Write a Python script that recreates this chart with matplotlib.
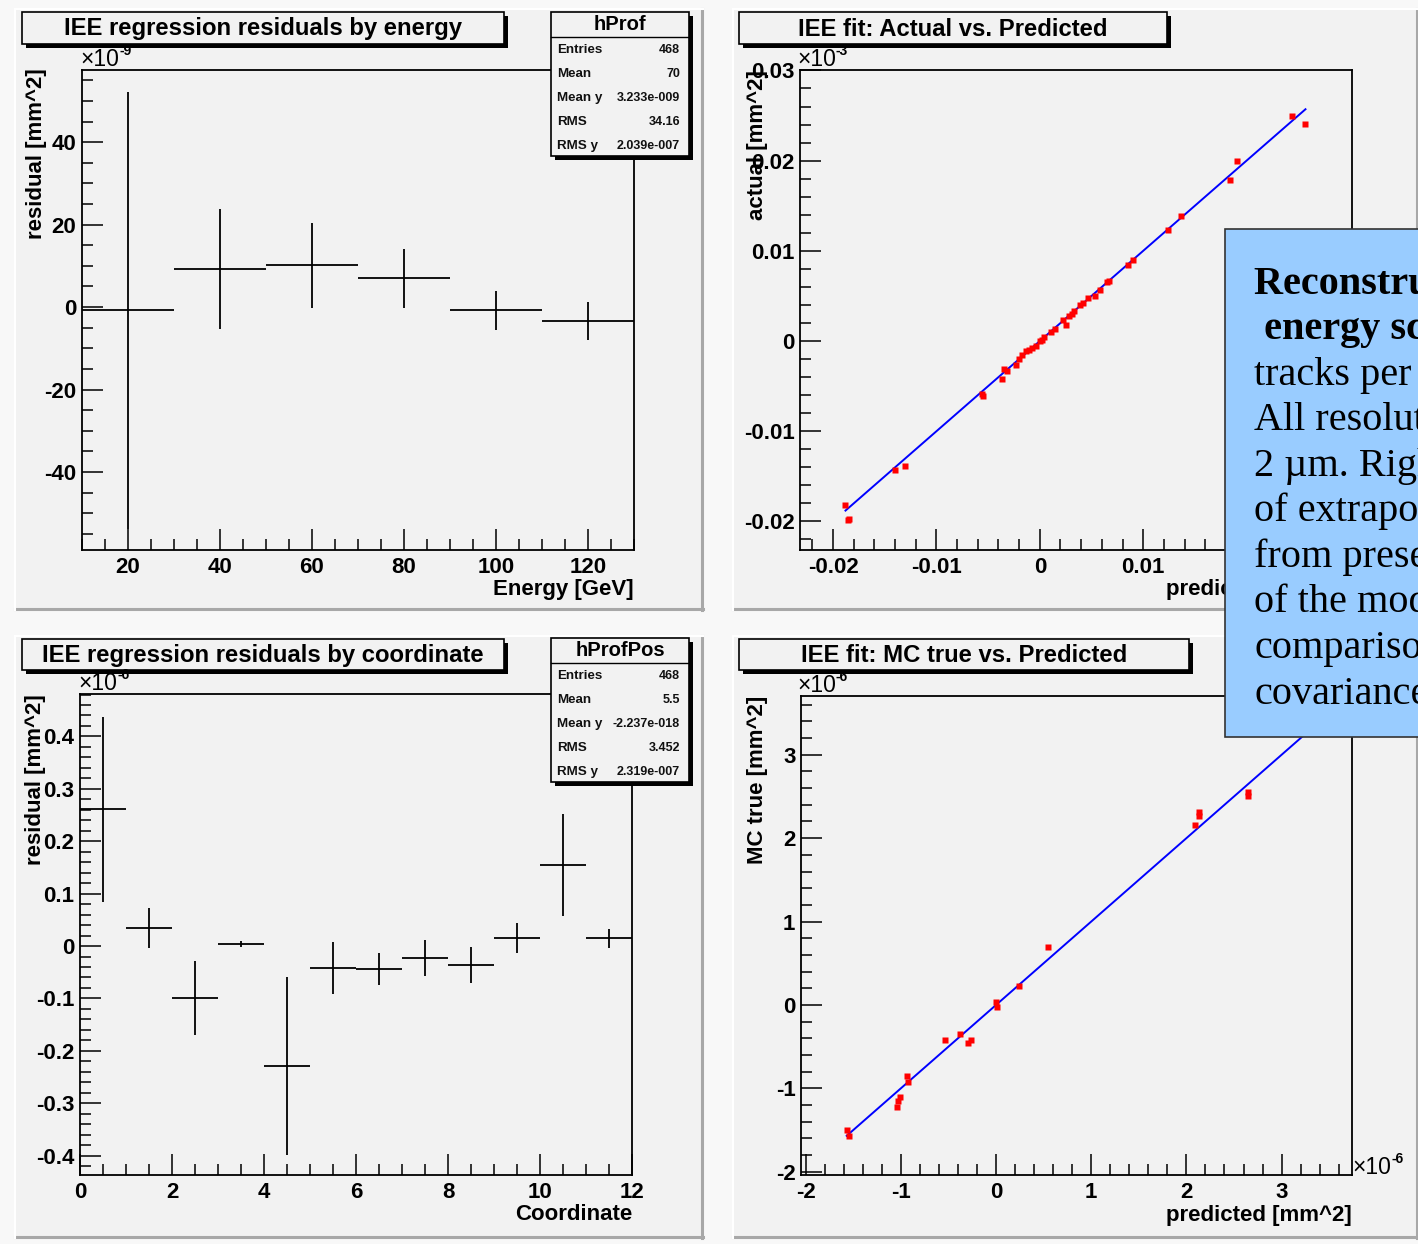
import numpy as np
import matplotlib
matplotlib.use("Agg")
import matplotlib.pyplot as plt
from matplotlib.patches import Rectangle
from matplotlib.ticker import MultipleLocator, FuncFormatter

plt.rcParams['font.family'] = ['Liberation Sans', 'DejaVu Sans']
plt.rcParams['font.weight'] = 'bold'

# ---------------- data ----------------
# Profile of residuals vs energy (units of 1e-9 mm^2)
energy_centers = [20, 40, 60, 80, 100, 120]
energy_bin_width = 20
energy_resid = [-0.8, 9.2, 10.1, 7.0, -0.8, -3.4]
energy_err = [53.0, 14.6, 10.2, 7.1, 4.8, 4.6]

# Profile of residuals vs coordinate (units of 1e-6 mm^2)
coord_centers = [0.5, 1.5, 2.5, 3.5, 4.5, 5.5, 6.5, 7.5, 8.5, 9.5, 10.5, 11.5]
coord_bin_width = 1
coord_resid = [0.261, 0.034, -0.099, 0.004, -0.229, -0.042, -0.044, -0.023,
               -0.036, 0.015, 0.155, 0.015]
coord_err = [0.177, 0.038, 0.071, 0.005, 0.170, 0.049, 0.030, 0.035,
             0.035, 0.028, 0.097, 0.018]

# Actual vs predicted (mm^2)
pred_actual = [-0.0188, -0.0186, -0.0185, -0.0140, -0.0130, -0.0056, -0.0055,
               -0.0037, -0.0035, -0.0032, -0.0023, -0.0020, -0.0017, -0.0013,
               -0.0010, -0.0008, -0.0004, 0.0000, 0.0002, 0.0004, 0.0011,
               0.0015, 0.0022, 0.0025, 0.0028, 0.0031, 0.0033, 0.0039, 0.0042,
               0.0047, 0.0053, 0.0058, 0.0065, 0.0067, 0.0085, 0.0090, 0.0124,
               0.0137, 0.0184, 0.0191, 0.0244, 0.0257]
actual_vals = [-0.0182, -0.0198, -0.0197, -0.0143, -0.0139, -0.0059, -0.0061,
               -0.0042, -0.0031, -0.0033, -0.0027, -0.0020, -0.0016, -0.0011,
               -0.0010, -0.0008, -0.0005, 0.0000, 0.0001, 0.0004, 0.0010,
               0.0013, 0.0023, 0.0018, 0.0028, 0.0030, 0.0033, 0.0040, 0.0042,
               0.0048, 0.0050, 0.0057, 0.0065, 0.0067, 0.0084, 0.0090, 0.0123,
               0.0139, 0.0179, 0.0200, 0.0249, 0.0241]
fit_actual = (1.0, 0.0)   # slope, intercept

# MC true vs predicted (units of 1e-6 mm^2)
pred_mc = [-1.568, -1.549, -1.042, -1.028, -1.014, -0.934, -0.925, -0.535,
           -0.380, -0.300, -0.268, 0.000, 0.010, 0.244, 0.545, 2.094, 2.131,
           2.131, 2.643, 2.643]
mc_true = [-1.505, -1.571, -1.229, -1.157, -1.110, -0.848, -0.919, -0.419,
           -0.348, -0.452, -0.419, 0.033, -0.024, 0.224, 0.690, 2.152, 2.319,
           2.260, 2.548, 2.510]
fit_mc = (1.0, 0.0)
fit_mc_range = [-1.57, 3.6]

stats_energy = [("Entries", "468"), ("Mean", "70"), ("Mean y", "3.233e-009"),
                ("RMS", "34.16"), ("RMS y", "2.039e-007")]
stats_coord = [("Entries", "468"), ("Mean", "5.5"), ("Mean y", "-2.237e-018"),
               ("RMS", "3.452"), ("RMS y", "2.319e-007")]

note_lines = [("Reconstruction of", True), (" energy scale", True),
              ("tracks per event.", False), ("All resolutions", False),
              ("2 \u00b5m. Right:", False), ("of extrapolation", False),
              ("from present", False), ("of the model", False),
              ("comparison", False), ("covariance", False)]

# ---------------- layout helpers ----------------
W, H = 1418, 1244
fig = plt.figure(figsize=(W / 100, H / 100), dpi=100, facecolor='#f8f8f8')

bg = fig.add_axes([0, 0, 1, 1], zorder=0)
bg.set_xlim(0, W); bg.set_ylim(H, 0); bg.axis('off')
fg = fig.add_axes([0, 0, 1, 1], zorder=20)
fg.set_xlim(0, W); fg.set_ylim(H, 0); fg.axis('off')
fg.patch.set_alpha(0)


def px_axes(x0, y0, x1, y1):
    ax = fig.add_axes([x0 / W, 1 - y1 / H, (x1 - x0) / W, (y1 - y0) / H], zorder=5)
    ax.patch.set_facecolor('#f2f2f2')
    for s in ax.spines.values():
        s.set_linewidth(1.3)
    ax.tick_params(which='both', direction='in', top=False, right=False,
                   width=1.1, labelsize=16)
    ax.tick_params(axis='y', pad=4)
    ax.tick_params(axis='x', pad=5)
    ax.tick_params(which='major', length=15)
    ax.tick_params(which='minor', length=8)
    return ax


def pad(x0, y0, x1, y1):
    bg.add_patch(Rectangle((x0, y0), x1 - x0, y1 - y0, facecolor='#f2f2f2',
                           edgecolor='none'))
    bg.plot([x1 - 1, x1 - 1], [y0, y1], color='#a8a8a8', lw=2.2)
    bg.plot([x0, x1], [y1 - 1, y1 - 1], color='#a8a8a8', lw=2.2)
    bg.plot([x0, x1], [y0, y0], color='white', lw=1.5)
    bg.plot([x0, x0], [y0, y1], color='white', lw=1.5)


def shadow_box(x0, y0, x1, y1, face='#f2f2f2'):
    fg.add_patch(Rectangle((x0 + 4, y0 + 4), x1 - x0, y1 - y0,
                           facecolor='black', edgecolor='none'))
    fg.add_patch(Rectangle((x0, y0), x1 - x0, y1 - y0, facecolor=face,
                           edgecolor='black', lw=1.2))


def title_box(x0, y0, x1, y1, text):
    shadow_box(x0, y0, x1, y1)
    fg.text((x0 + x1) / 2, (y0 + y1) / 2 + 1, text, ha='center', va='center',
            fontsize=17.2, fontweight='bold')


def stats_box(x0, y0, x1, y1, name, rows):
    shadow_box(x0, y0, x1, y1)
    fg.plot([x0, x1], [y0 + 25, y0 + 25], color='black', lw=1.0)
    fg.text((x0 + x1) / 2, y0 + 13, name, ha='center', va='center',
            fontsize=14.5, fontweight='bold')
    for i, (k, v) in enumerate(rows):
        yy = y0 + 38 + 24 * i
        fg.text(x0 + 6, yy, k, ha='left', va='center', fontsize=9.6,
                fontweight='bold', color='#111111')
        fg.text(x1 - 9, yy, v, ha='right', va='center', fontsize=9.0,
                fontweight='bold', color='#111111')


def exponent(x, y, power):
    fg.text(x, y, "\u00d710", ha='left', va='center', fontsize=16.5,
            fontweight='normal')
    fg.text(x + 39, y - 9, power, ha='left', va='center', fontsize=10,
            fontweight='bold')


def ylabel(x, ytop, text):
    fg.text(x, ytop, text, rotation=90, rotation_mode='anchor', ha='right',
            va='center', fontsize=16, fontweight='bold')


def xlabel(xright, y, text):
    fg.text(xright, y, text, ha='right', va='center', fontsize=16,
            fontweight='bold')


fmt = FuncFormatter(lambda v, p: f"{v:g}")

# ---------------- pads ----------------
pad(15, 9, 703, 610)
pad(733, 9, 1418, 610)
pad(15, 636, 703, 1238)
pad(733, 636, 1418, 1238)

# ---------------- residuals vs energy ----------------
ax1 = px_axes(82, 70, 634, 550)
ax1.errorbar(energy_centers, energy_resid, xerr=energy_bin_width / 2,
             yerr=energy_err, fmt='none', ecolor='black', elinewidth=1.3,
             capsize=0)
ax1.set_xlim(10, 130)
ax1.set_ylim(-58.9, 57.5)
ax1.xaxis.set_major_locator(MultipleLocator(20))
ax1.xaxis.set_minor_locator(MultipleLocator(5))
ax1.yaxis.set_major_locator(MultipleLocator(20))
ax1.yaxis.set_minor_locator(MultipleLocator(5))
ax1.xaxis.set_major_formatter(fmt)
ax1.yaxis.set_major_formatter(fmt)

# ---------------- actual vs predicted ----------------
ax2 = px_axes(800, 70, 1352, 550)
xa = np.array([min(pred_actual), max(pred_actual)])
ax2.plot(xa, fit_actual[0] * xa + fit_actual[1], color='#0000ff', lw=1.4)
ax2.plot(pred_actual, actual_vals, 's', color='#ff0000', ms=4.0, mec='none')
ax2.set_xlim(-0.0232, 0.0302)
ax2.set_ylim(-0.02317, 0.03005)
ax2.xaxis.set_major_locator(MultipleLocator(0.01))
ax2.xaxis.set_minor_locator(MultipleLocator(0.002))
ax2.yaxis.set_major_locator(MultipleLocator(0.01))
ax2.yaxis.set_minor_locator(MultipleLocator(0.002))
ax2.xaxis.set_major_formatter(fmt)
ax2.yaxis.set_major_formatter(fmt)

# ---------------- residuals vs coordinate ----------------
ax3 = px_axes(80, 694, 632, 1175)
ax3.errorbar(coord_centers, coord_resid, xerr=coord_bin_width / 2,
             yerr=coord_err, fmt='none', ecolor='black', elinewidth=1.3,
             capsize=0)
ax3.set_xlim(0, 12)
ax3.set_ylim(-0.437, 0.481)
ax3.xaxis.set_major_locator(MultipleLocator(2))
ax3.xaxis.set_minor_locator(MultipleLocator(0.5))
ax3.yaxis.set_major_locator(MultipleLocator(0.1))
ax3.yaxis.set_minor_locator(MultipleLocator(0.02))
ax3.xaxis.set_major_formatter(fmt)
ax3.yaxis.set_major_formatter(fmt)

# ---------------- MC true vs predicted ----------------
ax4 = px_axes(801, 696, 1352, 1175)
xm = np.array(fit_mc_range)
ax4.plot(xm, fit_mc[0] * xm + fit_mc[1], color='#0000ff', lw=1.4)
ax4.plot(pred_mc, mc_true, 's', color='#ff0000', ms=4.0, mec='none')
ax4.set_xlim(-2.05, 3.74)
ax4.set_ylim(-2.04, 3.705)
ax4.xaxis.set_major_locator(MultipleLocator(1))
ax4.xaxis.set_minor_locator(MultipleLocator(0.2))
ax4.yaxis.set_major_locator(MultipleLocator(1))
ax4.yaxis.set_minor_locator(MultipleLocator(0.2))
ax4.xaxis.set_major_formatter(fmt)
ax4.yaxis.set_major_formatter(fmt)

# ---------------- decorations ----------------
title_box(22, 12, 504, 44, "IEE regression residuals by energy")
title_box(22, 639, 504, 670, "IEE regression residuals by coordinate")
title_box(739, 12, 1167, 44, "IEE fit: Actual vs. Predicted")
title_box(739, 639, 1189, 670, "IEE fit: MC true vs. Predicted")

stats_box(551, 12, 689, 156, "hProf", stats_energy)
stats_box(551, 638, 689, 782, "hProfPos", stats_coord)

exponent(80, 60, "-9")
exponent(78, 684, "-6")
exponent(797, 60, "-3")
exponent(797, 686, "-6")
exponent(1352, 1168, "-6")

ylabel(37, 68, "residual [mm^2]")
ylabel(758, 70, "actual [mm^2]")
ylabel(36, 694, "residual [mm^2]")
ylabel(757, 696, "MC true [mm^2]")

xlabel(634, 589, "Energy [GeV]")
xlabel(1352, 590, "predicted [mm^2]")
xlabel(632, 1215, "Coordinate")
xlabel(1352, 1215, "predicted [mm^2]")

# ---------------- annotation panel ----------------
note = fig.add_axes([0, 0, 1, 1], zorder=30)
note.set_xlim(0, W); note.set_ylim(H, 0); note.axis('off')
note.patch.set_alpha(0)
note.add_patch(Rectangle((1225, 229), 260, 508, facecolor='#99ccff',
                         edgecolor='#333333', lw=1.2, clip_on=False))
for i, (line, bold) in enumerate(note_lines):
    note.text(1254, 294 + 45.5 * i, line, ha='left', va='baseline',
              fontsize=29, family='Liberation Serif',
              fontweight='bold' if bold else 'normal', color='black',
              clip_on=False)

fig.savefig("out.png", dpi=100, facecolor=fig.get_facecolor())
